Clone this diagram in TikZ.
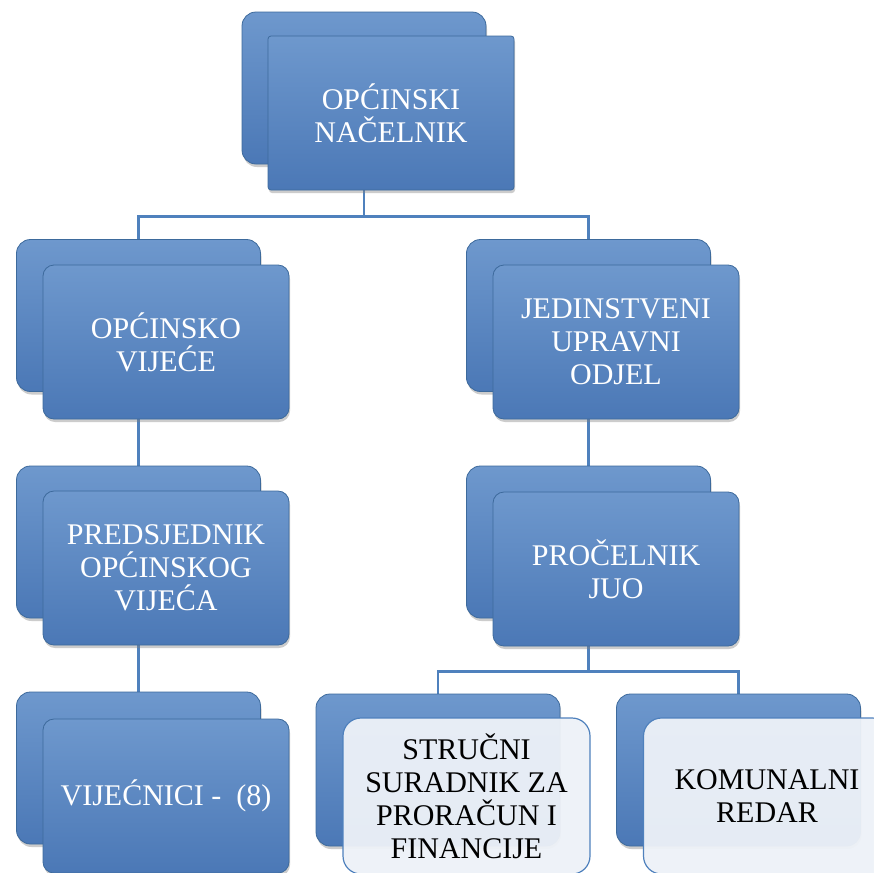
\documentclass[tikz,border=0pt]{standalone}
\usepackage{fontspec}
\setmainfont{Liberation Serif}
\usepackage{xcolor}
\usetikzlibrary{shadows,backgrounds}

\definecolor{boxtop}{HTML}{6E98CD}
\definecolor{boxbot}{HTML}{4B78B6}
\definecolor{boxline}{HTML}{3D6A9C}
\definecolor{linkblue}{HTML}{4F81BD}
\definecolor{paleblue}{HTML}{EEF2F8}

\begin{document}
\begin{tikzpicture}[
    x=1pt, y=1pt,
    unit/.style={rectangle, inner sep=0pt, align=center, line width=0.8pt,
        draw=boxline, top color=boxtop, bottom color=boxbot,
        drop shadow={opacity=0.4, shadow xshift=1pt, shadow yshift=-3pt},
        font=\fontsize{30}{33}\selectfont, text=white},
    backbox/.style={unit, rounded corners=14pt, minimum width=244pt, minimum height=152pt},
    frontbox/.style={unit, rounded corners=11pt, minimum width=246pt, minimum height=154pt},
    lightbox/.style={rectangle, inner sep=0pt, align=center, line width=1.2pt,
        draw=linkblue, fill=paleblue, fill opacity=0.95, text opacity=1,
        rounded corners=18pt, minimum width=247pt, minimum height=156pt,
        font=\fontsize{30}{33}\selectfont, text=black},
    link/.style={draw=linkblue, line width=2.6pt}
]
\useasboundingbox (0,0) rectangle (873,-873);

% top
\node[backbox, rounded corners=14pt] (nacBack) at (364,-88) {};
\node[frontbox, rounded corners=3pt] (nac) at (391,-113) {OPĆINSKI\\NAČELNIK};

% second row
\node[backbox] (vijBack) at (138.5,-315.5) {};
\node[frontbox] (vij) at (166,-342) {OPĆINSKO\\VIJEĆE};
\node[backbox] (jedBack) at (588.5,-315.5) {};
\node[frontbox] (jed) at (616,-342) {JEDINSTVENI\\UPRAVNI\\ODJEL};

% third row
\node[backbox] (predBack) at (138.5,-542) {};
\node[frontbox] (pred) at (166,-568) {PREDSJEDNIK\\OPĆINSKOG\\VIJEĆA};
\node[backbox] (proBack) at (588.5,-542) {};
\node[frontbox] (pro) at (616,-569) {PROČELNIK\\JUO};

% bottom row
\node[backbox] (vijecBack) at (138.5,-768) {};
\node[frontbox] (vijec) at (166,-796) {VIJEĆNICI -~~(8)};
\node[backbox] (strBack) at (438,-770) {};
\node[lightbox] (str) at (466.5,-796) {STRUČNI\\SURADNIK ZA\\PRORAČUN I\\FINANCIJE};
\node[backbox] (komBack) at (738.5,-770) {};
\node[lightbox] (kom) at (767,-796) {KOMUNALNI\\REDAR};

\begin{pgfonlayer}{background}
\fill[white] (0,0) rectangle (873,-873);
\draw[link] (nacBack.south) -- ++(0,-52) -| (vijBack.north);
\draw[link] (nacBack.south) -- ++(0,-52) -| (jedBack.north);
\draw[link] (vijBack.south) -- (predBack.north);
\draw[link] (predBack.south) -- (vijecBack.north);
\draw[link] (jedBack.south) -- (proBack.north);
\draw[link] (proBack.south) -- ++(0,-53) -| (strBack.north);
\draw[link] (proBack.south) -- ++(0,-53) -| (komBack.north);
\end{pgfonlayer}
\end{tikzpicture}
\end{document}
